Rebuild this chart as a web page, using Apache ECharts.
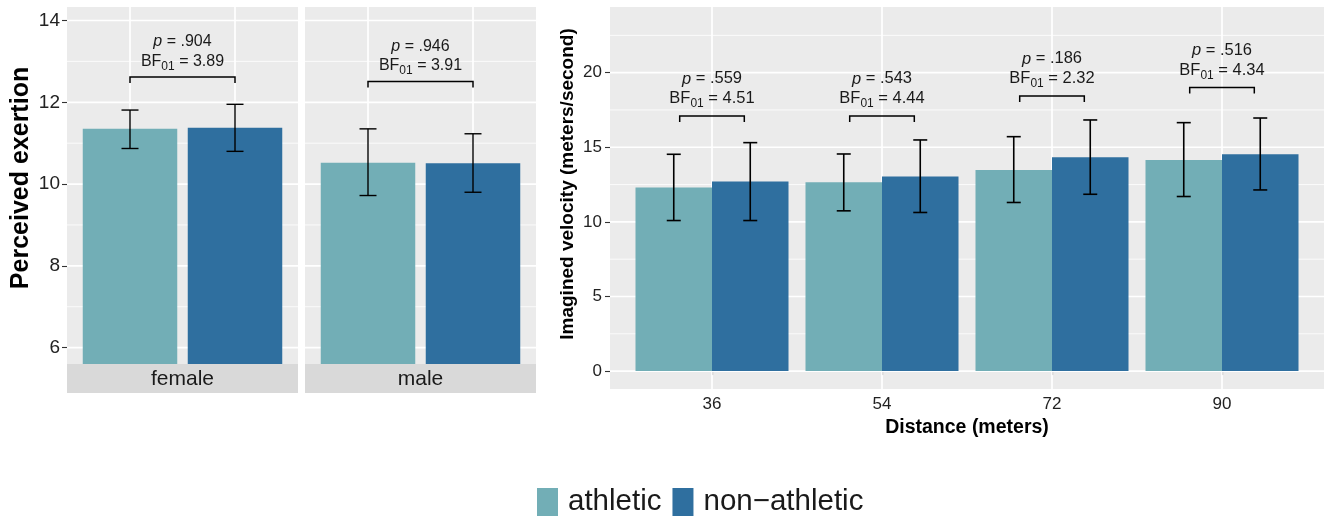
<!DOCTYPE html>
<html>
<head>
<meta charset="utf-8">
<script src="https://cdn.jsdelivr.net/npm/echarts@6/dist/echarts.min.js"></script>
<style>
html, body { margin: 0; padding: 0; background: #ffffff; }
#chart { width: 1324px; height: 516px; }
</style>
</head>
<body>
<div id="chart"></div>
<script>
// ---------------- data ----------------
const groups = ['athletic', 'non\u2212athletic'];
const sexes = ['female', 'male'];

const exertionFemale = [11.35, 11.38];
const exertionFemaleLow = [10.87, 10.80];
const exertionFemaleHigh = [11.81, 11.95];
const exertionMale = [10.52, 10.51];
const exertionMaleLow = [9.72, 9.80];
const exertionMaleHigh = [11.35, 11.23];
const exertionP = ['.904', '.946'];
const exertionBF = ['3.89', '3.91'];
const exertionBracketY = [12.62, 12.51];
const exertionTicks = [6, 8, 10, 12, 14];
const exertionMinor = [7, 9, 11, 13];

const distances = ['36', '54', '72', '90'];
const velocityAthletic = [12.30, 12.66, 13.48, 14.15];
const velocityAthleticLow = [10.09, 10.74, 11.30, 11.70];
const velocityAthleticHigh = [14.53, 14.55, 15.71, 16.65];
const velocityNonAthletic = [12.70, 13.04, 14.33, 14.53];
const velocityNonAthleticLow = [10.09, 10.63, 11.85, 12.14];
const velocityNonAthleticHigh = [15.31, 15.49, 16.83, 16.96];
const velocityP = ['.559', '.543', '.186', '.516'];
const velocityBF = ['4.51', '4.44', '2.32', '4.34'];
const velocityBracketY = [17.1, 17.1, 18.44, 19.0];
const velocityTicks = [0, 5, 10, 15, 20];
const velocityMinor = [2.5, 7.5, 12.5, 17.5, 22.5];

// ---------------- layout / style ----------------
const FONT = '"Liberation Sans", Arial, Helvetica, sans-serif';
const COLORS = ['#72AEB6', '#2F6F9F'];
const PANEL_BG = '#EBEBEB';
const TEXT = '#1A1A1A';
const L0 = 67, L1 = 305, FW = 231, TOP = 7, LH = 357;
const R0 = 610, RW = 714, RH = 382;
const EX_RANGE = [5.6, 14.33];
const VE_RANGE = [-1.2, 24.4];
const FACET_X = [0.4, 2.6];
const DIST_X = [0.4, 4.6];

const measureCtx = document.createElement('canvas').getContext('2d');
function textWidth(str, size, fstyle) {
  measureCtx.font = (fstyle || 'normal') + ' normal ' + size + 'px ' + FONT;
  return measureCtx.measureText(str).width;
}
function txt(s, x, y, fs, fstyle) {
  return { type: 'text', style: { text: s, x: x, y: y, fontSize: fs, fontFamily: FONT,
    fontStyle: fstyle || 'normal', fill: TEXT, align: 'left', verticalAlign: 'middle' } };
}

function gridLineRender(xr, yr) {
  return function (params, api) {
    const kind = api.value(0), v = api.value(1), major = api.value(2);
    let a, b;
    if (kind === 0) { a = api.coord([xr[0], v]); b = api.coord([xr[1], v]); }
    else { a = api.coord([v, yr[0]]); b = api.coord([v, yr[1]]); }
    return { type: 'line', shape: { x1: a[0], y1: a[1], x2: b[0], y2: b[1] },
      style: { stroke: '#FFFFFF', lineWidth: major ? 1.7 : 0.8 } };
  };
}
function gridData(majorY, minorY, majorX) {
  return majorY.map(v => [0, v, 1]).concat(minorY.map(v => [0, v, 0])).concat(majorX.map(v => [1, v, 1]));
}
function barRender(offset, width) {
  return function (params, api) {
    const x = api.value(0) + offset, v = api.value(1);
    const p0 = api.coord([x - width / 2, v]);
    const p1 = api.coord([x + width / 2, 0]);
    return { type: 'rect', shape: { x: p0[0], y: p0[1], width: p1[0] - p0[0], height: p1[1] - p0[1] },
      style: { fill: api.visual('color') } };
  };
}
function errRender(offset, capPx, lw) {
  return function (params, api) {
    const x = api.value(0) + offset;
    const lo = api.coord([x, api.value(1)]), hi = api.coord([x, api.value(2)]);
    const st = { stroke: '#000000', lineWidth: lw };
    return { type: 'group', children: [
      { type: 'line', shape: { x1: lo[0], y1: lo[1], x2: hi[0], y2: hi[1] }, style: st },
      { type: 'line', shape: { x1: lo[0] - capPx, y1: lo[1], x2: lo[0] + capPx, y2: lo[1] }, style: st },
      { type: 'line', shape: { x1: hi[0] - capPx, y1: hi[1], x2: hi[0] + capPx, y2: hi[1] }, style: st }
    ] };
  };
}
function annotRender(pLabels, bfLabels, halfW, fs, subFs, pGap, bfGap, tipPx) {
  return function (params, api) {
    const i = params.dataIndex;
    const cx = api.value(0), yb = api.value(1);
    const a = api.coord([cx - halfW, yb]);
    const b = api.coord([cx + halfW, yb]);
    const mid = api.coord([cx, yb]);
    const children = [{
      type: 'polyline',
      shape: { points: [[a[0], a[1] + tipPx], [a[0], a[1]], [b[0], b[1]], [b[0], b[1] + tipPx]] },
      style: { stroke: '#000000', lineWidth: 1.5, fill: null }
    }];
    const pStr = ' = ' + pLabels[i];
    const wp = textWidth('p', fs, 'italic'), wr = textWidth(pStr, fs);
    let x0 = mid[0] - (wp + wr) / 2;
    const y1 = mid[1] - pGap;
    children.push(txt('p', x0, y1, fs, 'italic'));
    children.push(txt(pStr, x0 + wp, y1, fs));
    const bStr = ' = ' + bfLabels[i];
    const w1 = textWidth('BF', fs), w2 = textWidth('01', subFs), w3 = textWidth(bStr, fs);
    x0 = mid[0] - (w1 + w2 + w3) / 2;
    const y2 = mid[1] - bfGap;
    children.push(txt('BF', x0, y2, fs));
    children.push(txt('01', x0 + w1, y2 + 5, subFs));
    children.push(txt(bStr, x0 + w1 + w2, y2, fs));
    return { type: 'group', children: children };
  };
}

const series = [];
// panel grid lines
[0, 1].forEach(g => {
  series.push({ type: 'custom', name: 'gridlines-' + g, xAxisIndex: g, yAxisIndex: g, z: 1, silent: true,
    renderItem: gridLineRender(FACET_X, EX_RANGE), data: gridData(exertionTicks, exertionMinor, [1, 2]) });
});
series.push({ type: 'custom', name: 'gridlines-2', xAxisIndex: 2, yAxisIndex: 2, z: 1, silent: true,
  renderItem: gridLineRender(DIST_X, VE_RANGE), data: gridData(velocityTicks, velocityMinor, [1, 2, 3, 4]) });

// exertion bars
const exMeans = [exertionFemale, exertionMale];
const exLows = [exertionFemaleLow, exertionMaleLow];
const exHighs = [exertionFemaleHigh, exertionMaleHigh];
[0, 1].forEach(s => {
  groups.forEach((gname, g) => {
    series.push({ type: 'custom', name: gname, xAxisIndex: s, yAxisIndex: s, z: 2, clip: true, silent: true,
      itemStyle: { color: COLORS[g] }, renderItem: barRender(0, 0.9),
      data: [[g + 1, exMeans[s][g]]] });
  });
  series.push({ type: 'custom', name: 'err-' + sexes[s], xAxisIndex: s, yAxisIndex: s, z: 3, silent: true,
    renderItem: errRender(0, 8.5, 1.4), encode: { x: 0, y: [1, 2] },
    data: groups.map((gname, g) => [g + 1, exLows[s][g], exHighs[s][g]]) });
  series.push({ type: 'custom', name: 'annot-' + sexes[s], xAxisIndex: s, yAxisIndex: s, z: 4, silent: true,
    renderItem: annotRender([exertionP[s]], [exertionBF[s]], 0.5, 16, 12, 35, 15.5, 6),
    data: [[1.5, exertionBracketY[s]]] });
});

// velocity bars
const veMeans = [velocityAthletic, velocityNonAthletic];
const veLows = [velocityAthleticLow, velocityNonAthleticLow];
const veHighs = [velocityAthleticHigh, velocityNonAthleticHigh];
const offsets = [-0.225, 0.225];
groups.forEach((gname, g) => {
  series.push({ type: 'custom', name: gname, xAxisIndex: 2, yAxisIndex: 2, z: 2, clip: true, silent: true,
    itemStyle: { color: COLORS[g] }, renderItem: barRender(offsets[g], 0.45),
    data: distances.map((d, i) => [i + 1, veMeans[g][i]]) });
  series.push({ type: 'custom', name: 'err-v-' + g, xAxisIndex: 2, yAxisIndex: 2, z: 3, silent: true,
    renderItem: errRender(offsets[g], 7, 1.6), encode: { x: 0, y: [1, 2] },
    data: distances.map((d, i) => [i + 1, veLows[g][i], veHighs[g][i]]) });
});
series.push({ type: 'custom', name: 'annot-v', xAxisIndex: 2, yAxisIndex: 2, z: 4, silent: true,
  renderItem: annotRender(velocityP, velocityBF, 0.19, 16.5, 12, 37, 17, 6),
  data: distances.map((d, i) => [i + 1, velocityBracketY[i]]) });

const tickStyle = { color: '#333333', width: 1.1 };
const option = {
  animation: false,
  backgroundColor: '#FFFFFF',
  grid: [
    { left: L0, top: TOP, width: FW, height: LH, show: true, backgroundColor: PANEL_BG, borderWidth: 0, containLabel: false },
    { left: L1, top: TOP, width: FW, height: LH, show: true, backgroundColor: PANEL_BG, borderWidth: 0, containLabel: false },
    { left: R0, top: TOP, width: RW, height: RH, show: true, backgroundColor: PANEL_BG, borderWidth: 0, containLabel: false }
  ],
  xAxis: [
    { gridIndex: 0, type: 'value', min: FACET_X[0], max: FACET_X[1], show: false },
    { gridIndex: 1, type: 'value', min: FACET_X[0], max: FACET_X[1], show: false },
    { gridIndex: 2, type: 'value', min: DIST_X[0], max: DIST_X[1],
      axisLine: { show: false }, splitLine: { show: false },
      axisTick: { show: true, customValues: [1, 2, 3, 4], length: 4, lineStyle: tickStyle },
      axisLabel: { customValues: [1, 2, 3, 4], formatter: v => distances[Math.round(v) - 1],
        fontSize: 17, fontFamily: FONT, color: '#222222', margin: 7 } }
  ],
  yAxis: [
    { gridIndex: 0, type: 'value', min: EX_RANGE[0], max: EX_RANGE[1],
      axisLine: { show: false }, splitLine: { show: false },
      axisTick: { show: true, customValues: exertionTicks, length: 5, lineStyle: tickStyle },
      axisLabel: { customValues: exertionTicks, fontSize: 19, fontFamily: FONT, color: '#222222', margin: 7 } },
    { gridIndex: 1, type: 'value', min: EX_RANGE[0], max: EX_RANGE[1],
      axisLine: { show: false }, splitLine: { show: false }, axisTick: { show: false }, axisLabel: { show: false } },
    { gridIndex: 2, type: 'value', min: VE_RANGE[0], max: VE_RANGE[1],
      axisLine: { show: false }, splitLine: { show: false },
      axisTick: { show: true, customValues: velocityTicks, length: 5, lineStyle: tickStyle },
      axisLabel: { customValues: velocityTicks, fontSize: 17, fontFamily: FONT, color: '#222222', margin: 8 } }
  ],
  legend: {
    data: groups, left: 537, top: 487, padding: 0, itemWidth: 21, itemHeight: 28, itemGap: 11,
    icon: 'rect', selectedMode: false,
    textStyle: { fontSize: 29.5, fontFamily: FONT, color: TEXT, padding: [0, 0, 0, 5] }
  },
  graphic: [
    { type: 'rect', x: L0, y: TOP + LH, shape: { width: FW, height: 29 }, style: { fill: '#D9D9D9' }, silent: true },
    { type: 'rect', x: L1, y: TOP + LH, shape: { width: FW, height: 29 }, style: { fill: '#D9D9D9' }, silent: true },
    { type: 'text', x: L0 + FW / 2, y: TOP + LH + 15.5, silent: true,
      style: { text: sexes[0], fontSize: 21, fontFamily: FONT, fill: TEXT, align: 'center', verticalAlign: 'middle' } },
    { type: 'text', x: L1 + FW / 2, y: TOP + LH + 15.5, silent: true,
      style: { text: sexes[1], fontSize: 21, fontFamily: FONT, fill: TEXT, align: 'center', verticalAlign: 'middle' } },
    { type: 'text', x: 21, y: 178, rotation: Math.PI / 2, silent: true,
      style: { text: 'Perceived exertion', fontSize: 25, fontWeight: 'bold', fontFamily: FONT, fill: '#000000',
        align: 'center', verticalAlign: 'middle' } },
    { type: 'text', x: 567.5, y: 184, rotation: Math.PI / 2, silent: true,
      style: { text: 'Imagined velocity (meters/second)', fontSize: 19, fontWeight: 'bold', fontFamily: FONT, fill: '#000000',
        align: 'center', verticalAlign: 'middle' } },
    { type: 'text', x: R0 + RW / 2, y: 428, silent: true,
      style: { text: 'Distance (meters)', fontSize: 19.5, fontWeight: 'bold', fontFamily: FONT, fill: '#000000',
        align: 'center', verticalAlign: 'middle' } }
  ],
  series: series
};

const chart = echarts.init(document.getElementById('chart'), null, { renderer: 'canvas' });
chart.setOption(option);
</script>
</body>
</html>
